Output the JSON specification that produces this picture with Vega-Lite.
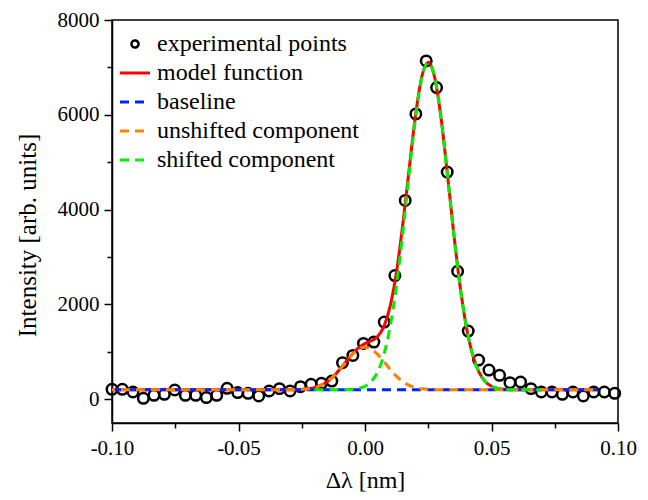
{
  "$schema": "https://vega.github.io/schema/vega-lite/v6.json",
  "width": 506,
  "height": 403,
  "autosize": {"type": "none"},
  "padding": {"left": 112, "top": 20, "right": 30, "bottom": 77},
  "background": "white",
  "config": {
    "view": {"stroke": "black", "strokeWidth": 1.5},
    "font": "Liberation Serif",
    "axis": {
      "grid": false,
      "domainColor": "black",
      "domainWidth": 1.5,
      "tickColor": "black",
      "tickWidth": 1.5,
      "labelColor": "black",
      "labelFont": "Liberation Serif",
      "labelFontSize": 21,
      "titleFont": "Liberation Serif",
      "titleFontWeight": "normal",
      "titleColor": "black",
      "labelOverlap": false,
      "labelFlush": false
    }
  },
  "datasets": {
    "pts": [
      {"x": -0.1000, "y": 210, "series": "experimental points"},
      {"x": -0.0959, "y": 210, "series": "experimental points"},
      {"x": -0.0917, "y": 154, "series": "experimental points"},
      {"x": -0.0876, "y": 20, "series": "experimental points"},
      {"x": -0.0834, "y": 84, "series": "experimental points"},
      {"x": -0.0793, "y": 105, "series": "experimental points"},
      {"x": -0.0752, "y": 196, "series": "experimental points"},
      {"x": -0.0710, "y": 84, "series": "experimental points"},
      {"x": -0.0669, "y": 84, "series": "experimental points"},
      {"x": -0.0627, "y": 36, "series": "experimental points"},
      {"x": -0.0586, "y": 84, "series": "experimental points"},
      {"x": -0.0545, "y": 232, "series": "experimental points"},
      {"x": -0.0503, "y": 141, "series": "experimental points"},
      {"x": -0.0462, "y": 126, "series": "experimental points"},
      {"x": -0.0420, "y": 70, "series": "experimental points"},
      {"x": -0.0379, "y": 175, "series": "experimental points"},
      {"x": -0.0338, "y": 225, "series": "experimental points"},
      {"x": -0.0296, "y": 175, "series": "experimental points"},
      {"x": -0.0255, "y": 267, "series": "experimental points"},
      {"x": -0.0213, "y": 316, "series": "experimental points"},
      {"x": -0.0172, "y": 337, "series": "experimental points"},
      {"x": -0.0131, "y": 385, "series": "experimental points"},
      {"x": -0.0089, "y": 772, "series": "experimental points"},
      {"x": -0.0048, "y": 926, "series": "experimental points"},
      {"x": -0.0006, "y": 1179, "series": "experimental points"},
      {"x": 0.0035, "y": 1207, "series": "experimental points"},
      {"x": 0.0076, "y": 1628, "series": "experimental points"},
      {"x": 0.0118, "y": 2610, "series": "experimental points"},
      {"x": 0.0159, "y": 4195, "series": "experimental points"},
      {"x": 0.0201, "y": 6020, "series": "experimental points"},
      {"x": 0.0242, "y": 7136, "series": "experimental points"},
      {"x": 0.0283, "y": 6574, "series": "experimental points"},
      {"x": 0.0325, "y": 4793, "series": "experimental points"},
      {"x": 0.0366, "y": 2701, "series": "experimental points"},
      {"x": 0.0408, "y": 1438, "series": "experimental points"},
      {"x": 0.0449, "y": 828, "series": "experimental points"},
      {"x": 0.0490, "y": 617, "series": "experimental points"},
      {"x": 0.0532, "y": 505, "series": "experimental points"},
      {"x": 0.0573, "y": 351, "series": "experimental points"},
      {"x": 0.0615, "y": 365, "series": "experimental points"},
      {"x": 0.0656, "y": 225, "series": "experimental points"},
      {"x": 0.0697, "y": 154, "series": "experimental points"},
      {"x": 0.0739, "y": 154, "series": "experimental points"},
      {"x": 0.0780, "y": 105, "series": "experimental points"},
      {"x": 0.0822, "y": 154, "series": "experimental points"},
      {"x": 0.0863, "y": 70, "series": "experimental points"},
      {"x": 0.0904, "y": 154, "series": "experimental points"},
      {"x": 0.0946, "y": 154, "series": "experimental points"},
      {"x": 0.0987, "y": 126, "series": "experimental points"}
    ],
    "model": [
      {"x": -0.1, "y": 200, "series": "model function"},
      {"x": -0.04, "y": 200, "series": "model function"},
      {"x": -0.035, "y": 200.1, "series": "model function"},
      {"x": -0.0325, "y": 200.4, "series": "model function"},
      {"x": -0.03, "y": 201.1, "series": "model function"},
      {"x": -0.0275, "y": 203.2, "series": "model function"},
      {"x": -0.025, "y": 208.6, "series": "model function"},
      {"x": -0.0225, "y": 220.9, "series": "model function"},
      {"x": -0.02, "y": 246, "series": "model function"},
      {"x": -0.0175, "y": 292, "series": "model function"},
      {"x": -0.015, "y": 369, "series": "model function"},
      {"x": -0.0125, "y": 482, "series": "model function"},
      {"x": -0.01, "y": 629, "series": "model function"},
      {"x": -0.0075, "y": 795, "series": "model function"},
      {"x": -0.005, "y": 957, "series": "model function"},
      {"x": -0.0025, "y": 1088, "series": "model function"},
      {"x": 0, "y": 1174, "series": "model function"},
      {"x": 0.0025, "y": 1234, "series": "model function"},
      {"x": 0.005, "y": 1325, "series": "model function"},
      {"x": 0.0075, "y": 1539, "series": "model function"},
      {"x": 0.01, "y": 1976, "series": "model function"},
      {"x": 0.0125, "y": 2702, "series": "model function"},
      {"x": 0.015, "y": 3717, "series": "model function"},
      {"x": 0.0175, "y": 4879, "series": "model function"},
      {"x": 0.02, "y": 6001, "series": "model function"},
      {"x": 0.0225, "y": 6815, "series": "model function"},
      {"x": 0.025, "y": 7109, "series": "model function"},
      {"x": 0.0275, "y": 6797, "series": "model function"},
      {"x": 0.03, "y": 5956, "series": "model function"},
      {"x": 0.0325, "y": 4787, "series": "model function"},
      {"x": 0.035, "y": 3539, "series": "model function"},
      {"x": 0.0375, "y": 2420, "series": "model function"},
      {"x": 0.04, "y": 1548, "series": "model function"},
      {"x": 0.0425, "y": 947, "series": "model function"},
      {"x": 0.045, "y": 578, "series": "model function"},
      {"x": 0.0475, "y": 375, "series": "model function"},
      {"x": 0.05, "y": 274, "series": "model function"},
      {"x": 0.0525, "y": 228.5, "series": "model function"},
      {"x": 0.055, "y": 210, "series": "model function"},
      {"x": 0.0575, "y": 203.2, "series": "model function"},
      {"x": 0.06, "y": 201, "series": "model function"},
      {"x": 0.0625, "y": 200.3, "series": "model function"},
      {"x": 0.065, "y": 200.1, "series": "model function"},
      {"x": 0.07, "y": 200, "series": "model function"},
      {"x": 0.092, "y": 200, "series": "model function"}
    ],
    "base": [
      {"x": -0.1, "y": 200, "series": "baseline"},
      {"x": 0.092, "y": 200, "series": "baseline"}
    ],
    "unshifted": [
      {"x": -0.1, "y": 200, "series": "unshifted component"},
      {"x": -0.03, "y": 201, "series": "unshifted component"},
      {"x": -0.0275, "y": 203, "series": "unshifted component"},
      {"x": -0.025, "y": 209, "series": "unshifted component"},
      {"x": -0.0225, "y": 221, "series": "unshifted component"},
      {"x": -0.02, "y": 246, "series": "unshifted component"},
      {"x": -0.0175, "y": 292, "series": "unshifted component"},
      {"x": -0.015, "y": 369, "series": "unshifted component"},
      {"x": -0.0125, "y": 482, "series": "unshifted component"},
      {"x": -0.01, "y": 628, "series": "unshifted component"},
      {"x": -0.0075, "y": 792, "series": "unshifted component"},
      {"x": -0.005, "y": 947, "series": "unshifted component"},
      {"x": -0.0025, "y": 1059, "series": "unshifted component"},
      {"x": 0, "y": 1100, "series": "unshifted component"},
      {"x": 0.0025, "y": 1059, "series": "unshifted component"},
      {"x": 0.005, "y": 947, "series": "unshifted component"},
      {"x": 0.0075, "y": 792, "series": "unshifted component"},
      {"x": 0.01, "y": 628, "series": "unshifted component"},
      {"x": 0.0125, "y": 482, "series": "unshifted component"},
      {"x": 0.015, "y": 369, "series": "unshifted component"},
      {"x": 0.0175, "y": 292, "series": "unshifted component"},
      {"x": 0.02, "y": 246, "series": "unshifted component"},
      {"x": 0.0225, "y": 221, "series": "unshifted component"},
      {"x": 0.025, "y": 209, "series": "unshifted component"},
      {"x": 0.0275, "y": 203, "series": "unshifted component"},
      {"x": 0.03, "y": 201, "series": "unshifted component"},
      {"x": 0.035, "y": 200, "series": "unshifted component"},
      {"x": 0.092, "y": 200, "series": "unshifted component"}
    ],
    "shifted": [
      {"x": -0.02, "y": 200, "series": "shifted component"},
      {"x": -0.0175, "y": 200, "series": "shifted component"},
      {"x": -0.015, "y": 200.1, "series": "shifted component"},
      {"x": -0.0125, "y": 200.3, "series": "shifted component"},
      {"x": -0.01, "y": 201, "series": "shifted component"},
      {"x": -0.0075, "y": 203, "series": "shifted component"},
      {"x": -0.005, "y": 210, "series": "shifted component"},
      {"x": -0.0025, "y": 228.5, "series": "shifted component"},
      {"x": 0, "y": 274, "series": "shifted component"},
      {"x": 0.0025, "y": 375, "series": "shifted component"},
      {"x": 0.005, "y": 578, "series": "shifted component"},
      {"x": 0.0075, "y": 947, "series": "shifted component"},
      {"x": 0.01, "y": 1548, "series": "shifted component"},
      {"x": 0.0125, "y": 2420, "series": "shifted component"},
      {"x": 0.015, "y": 3539, "series": "shifted component"},
      {"x": 0.0175, "y": 4787, "series": "shifted component"},
      {"x": 0.02, "y": 5955, "series": "shifted component"},
      {"x": 0.0225, "y": 6794, "series": "shifted component"},
      {"x": 0.025, "y": 7100, "series": "shifted component"},
      {"x": 0.0275, "y": 6794, "series": "shifted component"},
      {"x": 0.03, "y": 5955, "series": "shifted component"},
      {"x": 0.0325, "y": 4787, "series": "shifted component"},
      {"x": 0.035, "y": 3539, "series": "shifted component"},
      {"x": 0.0375, "y": 2420, "series": "shifted component"},
      {"x": 0.04, "y": 1548, "series": "shifted component"},
      {"x": 0.0425, "y": 947, "series": "shifted component"},
      {"x": 0.045, "y": 578, "series": "shifted component"},
      {"x": 0.0475, "y": 375, "series": "shifted component"},
      {"x": 0.05, "y": 274, "series": "shifted component"},
      {"x": 0.0525, "y": 228.5, "series": "shifted component"},
      {"x": 0.055, "y": 210, "series": "shifted component"},
      {"x": 0.0575, "y": 203, "series": "shifted component"},
      {"x": 0.06, "y": 201, "series": "shifted component"},
      {"x": 0.0625, "y": 200.3, "series": "shifted component"},
      {"x": 0.065, "y": 200.1, "series": "shifted component"},
      {"x": 0.07, "y": 200, "series": "shifted component"}
    ]
  },
  "encoding": {
    "x": {
      "field": "x",
      "type": "quantitative",
      "scale": {"domain": [-0.1, 0.1], "nice": false, "zero": false},
      "axis": {
        "title": "Δλ [nm]",
        "titleFontSize": 24,
        "titlePadding": 10,
        "values": [-0.1, -0.075, -0.05, -0.025, 0, 0.025, 0.05, 0.075, 0.1],
        "labelExpr": "round(datum.value*1000) % 50 === 0 ? replace(format(datum.value, '.2f'), '\u2212', '-') : ''",
        "labelPadding": 6,
        "tickSize": {"condition": {"test": "round(datum.value*1000) % 50 === 0", "value": 8}, "value": 5}
      }
    },
    "y": {
      "field": "y",
      "type": "quantitative",
      "scale": {"domain": [-500, 8000], "nice": false, "zero": false},
      "axis": {
        "title": "Intensity [arb. units]",
        "titleFontSize": 25,
        "titleX": -85,
        "titleY": 215,
        "titleBaseline": "middle",
        "values": [0, 1000, 2000, 3000, 4000, 5000, 6000, 7000, 8000],
        "labelExpr": "datum.value % 2000 === 0 ? format(datum.value, 'd') : ''",
        "labelPadding": 5,
        "tickSize": {"condition": {"test": "datum.value % 2000 === 0", "value": 8}, "value": 5}
      }
    },
    "color": {
      "field": "series",
      "type": "nominal",
      "scale": {
        "domain": ["experimental points", "model function", "baseline", "unshifted component", "shifted component"],
        "range": ["#000000", "#ff0000", "#0022ff", "#ff8000", "#00ee00"]
      },
      "legend": {
        "title": null,
        "orient": "none",
        "legendX": 11,
        "legendY": 12,
        "padding": 0,
        "rowPadding": 5,
        "symbolSize": 900,
        "symbolType": "stroke",
        "symbolStrokeWidth": 3,
        "labelFont": "Liberation Serif",
        "labelFontSize": 24,
        "labelColor": "black",
        "labelOffset": 10,
        "labelLimit": 400,
        "encode": {
          "symbols": {
            "update": {
              "shape": {"signal": "datum.value === 'experimental points' ? 'circle' : 'stroke'"},
              "size": {"signal": "datum.value === 'experimental points' ? 50 : 900"},
              "strokeDash": {"signal": "(datum.value === 'model function' || datum.value === 'experimental points') ? [1, 0] : [9, 6]"},
              "strokeWidth": {"signal": "datum.value === 'experimental points' ? 2.5 : 3"},
              "fill": {"value": "transparent"},
              "opacity": {"value": 1}
            }
          }
        }
      }
    }
  },
  "layer": [
    {
      "data": {"name": "pts"},
      "mark": {"type": "point", "filled": false, "size": 110, "strokeWidth": 2.5, "opacity": 1}
    },
    {
      "data": {"name": "model"},
      "mark": {"type": "line", "strokeWidth": 3, "interpolate": "monotone"}
    },
    {
      "data": {"name": "base"},
      "mark": {"type": "line", "strokeWidth": 3, "strokeDash": [9, 6]}
    },
    {
      "data": {"name": "unshifted"},
      "mark": {"type": "line", "strokeWidth": 3, "strokeDash": [9, 6], "strokeDashOffset": 6, "interpolate": "monotone"}
    },
    {
      "data": {"name": "shifted"},
      "mark": {"type": "line", "strokeWidth": 3, "strokeDash": [9, 6], "interpolate": "monotone"}
    }
  ]
}
